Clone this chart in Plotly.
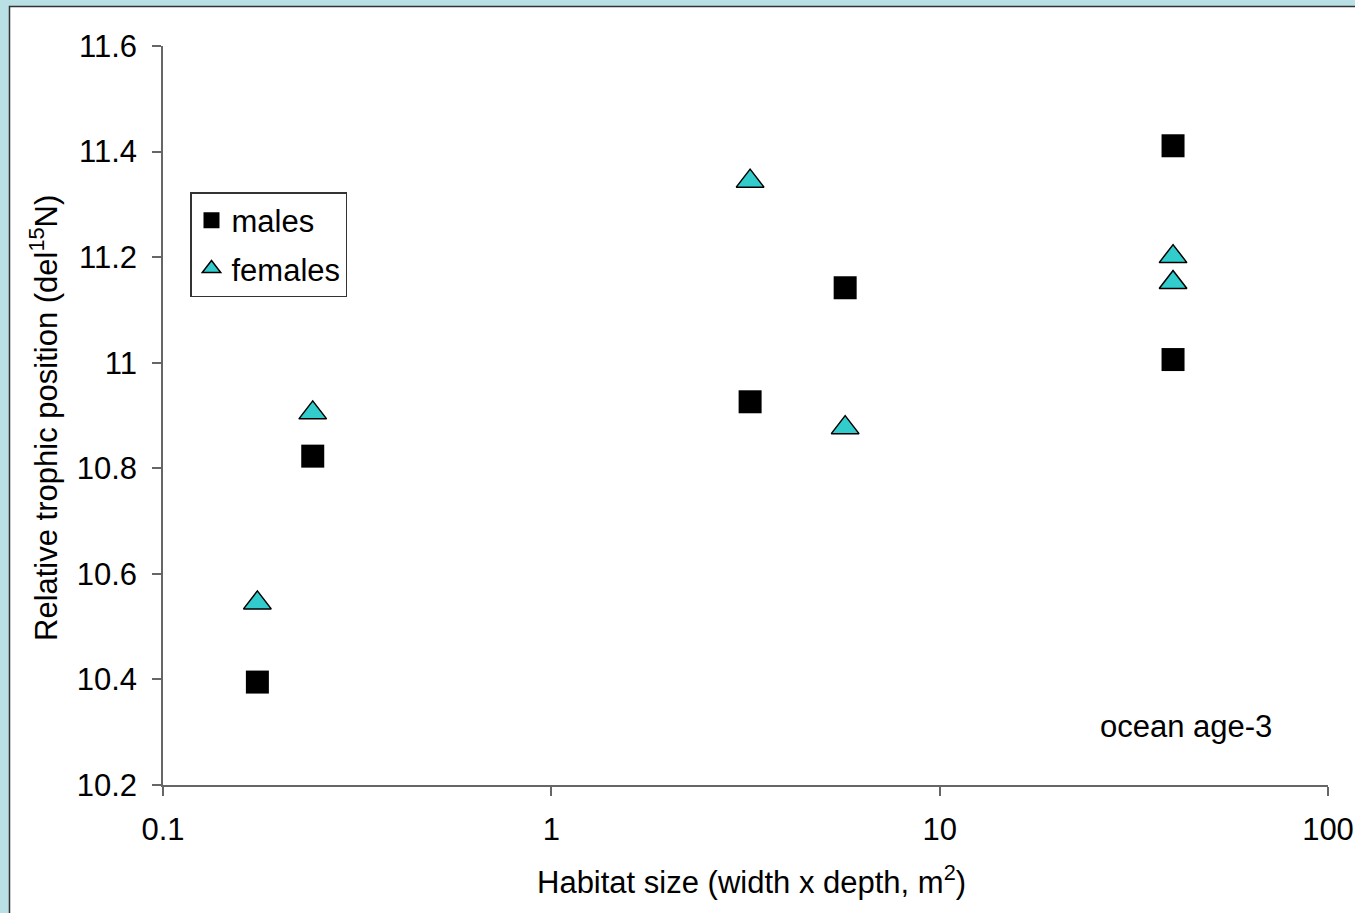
import plotly.graph_objects as go

# Data
male_x = [0.175, 0.243, 3.25, 5.71, 39.9, 39.9]
male_y = [10.395, 10.823, 10.926, 11.142, 11.411, 11.006]
female_x = [0.175, 0.243, 3.25, 5.71, 39.9, 39.9]
female_y = [10.545, 10.905, 11.344, 10.877, 11.201, 11.152]

y_ticks = [10.2, 10.4, 10.6, 10.8, 11.0, 11.2, 11.4, 11.6]
y_tick_labels = ["10.2", "10.4", "10.6", "10.8", "11", "11.2", "11.4", "11.6"]
x_ticks = [0.1, 1, 10, 100]
x_tick_labels = ["0.1", "1", "10", "100"]

FONT = "Liberation Sans, Arial, sans-serif"
FS = 31
BG = "#B9E0E4"

fig = go.Figure()
fig.add_trace(go.Scatter(
    x=male_x, y=male_y, mode="markers", name="males", legendgroup="m",
    marker=dict(symbol="square", size=23, color="black", line=dict(width=0)),
))
fig.add_trace(go.Scatter(
    x=female_x, y=female_y, mode="markers", name="females", legendgroup="f",
    marker=dict(symbol="triangle-up", size=24, color="#33CCCC",
                line=dict(width=1.5, color="black")),
))

W, H = 1355, 913
L, R, T, B = 163, 27, 46, 128
pw, ph = W - L - R, H - T - B

def px_x(p):
    return (p - L) / pw

def px_y(p):
    return 1 - (p - T) / ph

fig.add_shape(type="rect", xref="paper", yref="paper",
              x0=px_x(9.5), x1=px_x(1400), y0=px_y(6.5), y1=px_y(1000),
              fillcolor="white", line=dict(color="#333333", width=1.5),
              layer="below")

fig.add_annotation(text="ocean age-3", x=px_x(1186), y=px_y(726),
                   xref="paper", yref="paper", showarrow=False,
                   xanchor="center", yanchor="middle",
                   font=dict(family=FONT, size=FS, color="black"))
fig.add_annotation(text="Relative trophic position (del<sup>15</sup>N)",
                   x=px_x(44), y=px_y(418), xref="paper", yref="paper",
                   textangle=-90, showarrow=False,
                   xanchor="center", yanchor="middle",
                   font=dict(family=FONT, size=FS, color="black"))
fig.add_annotation(text="Habitat size (width x depth, m<sup>2</sup>)",
                   x=px_x(751), y=px_y(880), xref="paper", yref="paper",
                   showarrow=False, xanchor="center", yanchor="middle",
                   font=dict(family=FONT, size=FS, color="black"))

fig.update_layout(
    width=W, height=H,
    margin=dict(l=L, r=R, t=T, b=B, pad=0, autoexpand=False),
    paper_bgcolor=BG,
    plot_bgcolor="rgba(0,0,0,0)",
    font=dict(family=FONT, size=FS, color="black"),
    showlegend=True,
    legend=dict(x=px_x(190), y=px_y(192), xanchor="left", yanchor="top",
                bgcolor="white", bordercolor="#333333", borderwidth=1.5,
                font=dict(family=FONT, size=FS, color="black"),
                traceorder="grouped", tracegroupgap=5),
    xaxis=dict(type="log", range=[-1, 2], tickvals=x_ticks, ticktext=x_tick_labels,
               showgrid=False, zeroline=False, showline=True, linecolor="#666666",
               linewidth=1.5, ticks="outside", ticklen=9, tickcolor="#666666",
               tickwidth=1.5, ticklabelstandoff=7, automargin=False,
               tickfont=dict(family=FONT, size=FS, color="black")),
    yaxis=dict(range=[10.2, 11.6], tickvals=y_ticks, ticktext=y_tick_labels,
               showgrid=False, zeroline=False, showline=True, linecolor="#666666",
               linewidth=1.5, ticks="outside", ticklen=9, tickcolor="#666666",
               tickwidth=1.5, ticklabelstandoff=9, automargin=False,
               tickfont=dict(family=FONT, size=FS, color="black")),
)

fig.write_html(
    "out.html",
    config={"displayModeBar": False},
    post_script="document.body.style.margin='0';document.body.style.background='%s';" % BG,
)
